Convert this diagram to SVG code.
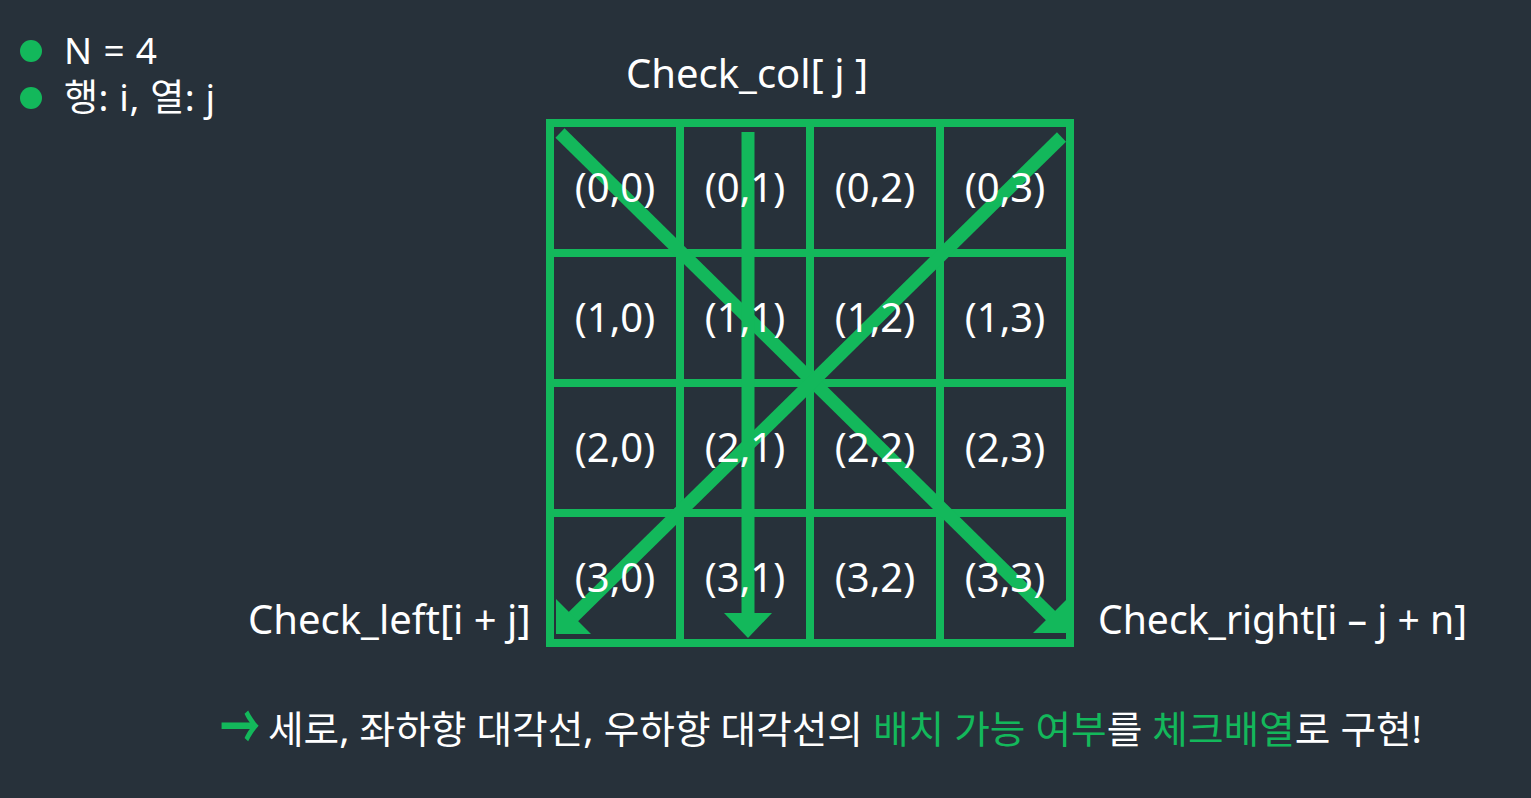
<svg xmlns="http://www.w3.org/2000/svg" width="1531" height="798" viewBox="0 0 1531 798">
<style>
text{font-family:"Noto Sans","Noto Sans CJK KR",sans-serif;fill:#ffffff;}
.cell{font-size:40px;text-anchor:middle;}
.lbl{font-size:40px;}
.g{fill:#13b85b;}
.grid{stroke:#13b85b;stroke-width:8;fill:none;}
.arr{stroke:#13b85b;stroke-width:13;fill:none;}
.head{fill:#13b85b;}
</style>
<rect width="1531" height="798" fill="#27313a"/>
<g id="legend">
<circle class="g" cx="31" cy="51" r="11"/>
<circle class="g" cx="31" cy="98" r="11"/>
<text x="64" y="64" font-size="37" textLength="93" lengthAdjust="spacing">N = 4</text>
<text x="64" y="111" font-size="37" textLength="151" lengthAdjust="spacing">행: i, 열: j</text>
</g>
<g id="grid">
<rect class="grid" x="550" y="123" width="520" height="520"/>
<line class="grid" x1="680" y1="123" x2="680" y2="643"/>
<line class="grid" x1="810" y1="123" x2="810" y2="643"/>
<line class="grid" x1="940" y1="123" x2="940" y2="643"/>
<line class="grid" x1="550" y1="253" x2="1070" y2="253"/>
<line class="grid" x1="550" y1="383" x2="1070" y2="383"/>
<line class="grid" x1="550" y1="513" x2="1070" y2="513"/>
</g>
<g id="connectors">
<line class="arr" x1="560" y1="133" x2="1051" y2="616"/>
<polygon class="head" points="1068,633 1068,598 1033,633"/>
<line class="arr" x1="1061.5" y1="137" x2="573" y2="617"/>
<polygon class="head" points="556,634 556,599 591,634"/>
<line class="arr" x1="748" y1="132" x2="748" y2="615"/>
<polygon class="head" points="724,613 772,613 748,638"/>
</g>
<g id="cells">
<text class="cell" x="615" y="202">(0,0)</text>
<text class="cell" x="745" y="202">(0,1)</text>
<text class="cell" x="875" y="202">(0,2)</text>
<text class="cell" x="1005" y="202">(0,3)</text>
<text class="cell" x="615" y="332">(1,0)</text>
<text class="cell" x="745" y="332">(1,1)</text>
<text class="cell" x="875" y="332">(1,2)</text>
<text class="cell" x="1005" y="332">(1,3)</text>
<text class="cell" x="615" y="462">(2,0)</text>
<text class="cell" x="745" y="462">(2,1)</text>
<text class="cell" x="875" y="462">(2,2)</text>
<text class="cell" x="1005" y="462">(2,3)</text>
<text class="cell" x="615" y="592">(3,0)</text>
<text class="cell" x="745" y="592">(3,1)</text>
<text class="cell" x="875" y="592">(3,2)</text>
<text class="cell" x="1005" y="592">(3,3)</text>
</g>
<g id="labels">
<text class="lbl" x="626" y="88">Check_col[ j ]</text>
<text class="lbl" x="248" y="634">Check_left[i + j]</text>
<text class="lbl" x="1098" y="634" textLength="369" lengthAdjust="spacingAndGlyphs">Check_right[i – j + n]</text>
</g>
<g id="summary">
<text class="g" x="0" y="14" font-size="40" font-weight="bold" transform="translate(220,728) scale(1,1.6)" style="font-family:'Noto Sans CJK KR',sans-serif">→</text>
<text x="268" y="743" font-size="38" textLength="1154" lengthAdjust="spacingAndGlyphs">세로, 좌하향 대각선, 우하향 대각선의 <tspan class="g">배치 가능 여부</tspan>를 <tspan class="g">체크배열</tspan>로 구현!</text>
</g>
</svg>
